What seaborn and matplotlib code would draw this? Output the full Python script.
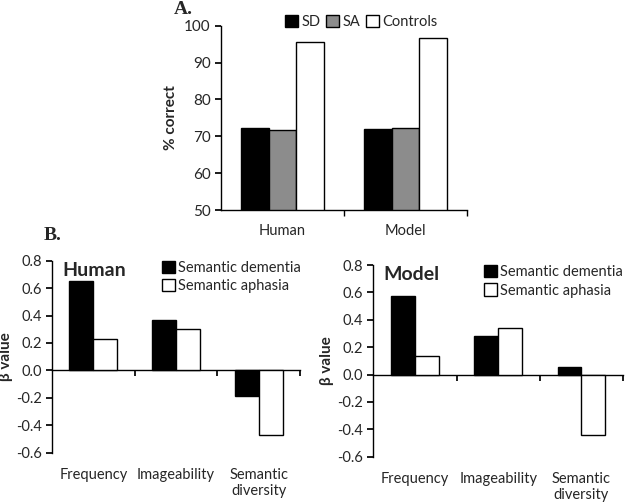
import matplotlib
matplotlib.use("Agg")
import matplotlib.pyplot as plt
import seaborn as sns
import pandas as pd
import numpy as np

sns.set_theme(style="white")
plt.rcParams['font.family'] = ['Lato', 'DejaVu Sans']
plt.rcParams['axes.unicode_minus'] = False

# ---- data ----
a_conditions = ["Human", "Model"]
a_groups = ["SD", "SA", "Controls"]
a_sd = [72.3, 72.0]
a_sa = [71.6, 72.2]
a_controls = [95.6, 96.7]

b_factors = ["Frequency", "Imageability", "Semantic\ndiversity"]
b_groups = ["Semantic dementia", "Semantic aphasia"]
human_sd = [0.65, 0.365, -0.19]
human_sa = [0.23, 0.30, -0.47]
model_sd = [0.575, 0.285, 0.058]
model_sa = [0.136, 0.341, -0.438]

df_a = pd.DataFrame({
    "cond": a_conditions * 3,
    "group": [g for g in a_groups for _ in a_conditions],
    "val": a_sd + a_sa + a_controls,
})

def bdf(sd, sa):
    return pd.DataFrame({
        "factor": b_factors * 2,
        "group": [g for g in b_groups for _ in b_factors],
        "val": sd + sa,
    })

fig = plt.figure(figsize=(6.25, 5.04), dpi=100)

tick_fs = 10.5
edge = dict(edgecolor="black", linewidth=1.0)

# ---- Panel A ----
axA = fig.add_axes([0.3536, 0.5833, 0.747 - 0.3536, 0.949 - 0.5833])
sns.barplot(data=df_a, x="cond", y="val", hue="group", hue_order=a_groups,
            palette=["#000000", "#8c8c8c", "#ffffff"], width=0.67, gap=0,
            saturation=1, ax=axA, **edge)
axA.set_ylim(50, 100)
axA.set_xlim(-0.5, 1.5)
axA.set_yticks(np.arange(50, 101, 10))
axA.set_xlabel("")
axA.set_ylabel("% correct", fontsize=11, fontweight="bold", labelpad=4)
for s in ["top", "right"]:
    axA.spines[s].set_visible(False)
for s in ["left", "bottom"]:
    axA.spines[s].set_color("black")
    axA.spines[s].set_linewidth(1.0)
axA.set_xticks([0.5, 1.5], minor=True)
axA.tick_params(axis="x", which="major", length=0, labelsize=tick_fs, pad=10)
axA.tick_params(axis="x", which="minor", length=4, direction="out", bottom=True, color="black")
axA.tick_params(axis="y", length=4, direction="out", left=True, labelsize=11, color="black")
axA.legend(loc="center", bbox_to_anchor=(0.57, 1.02), ncol=3, frameon=False,
           fontsize=10.5, handlelength=0.9, handleheight=0.9, handletextpad=0.2,
           columnspacing=0.4, borderaxespad=0, borderpad=0)
fig.text(174 / 625, 1 - 10 / 504, "A.", fontsize=14, fontweight="bold",
         family="Liberation Serif", va="center", ha="left")

# ---- Panel B ----
def panel_b(rect, sd, sa, title, width, leg_anchor):
    ax = fig.add_axes(rect)
    sns.barplot(data=bdf(sd, sa), x="factor", y="val", hue="group", hue_order=b_groups,
                palette=["#000000", "#ffffff"], width=width, gap=0, saturation=1,
                ax=ax, **edge)
    ymin, ymax = -0.6, 0.8
    ax.set_ylim(ymin, ymax)
    ax.set_xlim(-0.5, 2.5)
    yt = np.round(np.arange(-0.6, 0.81, 0.2), 1)
    ax.set_yticks(yt)
    ax.set_yticklabels([f"{v:.1f}" for v in yt])
    ax.set_xlabel("")
    ax.set_ylabel("β value", fontsize=11, fontweight="bold", labelpad=2)
    for s in ["top", "right", "bottom"]:
        ax.spines[s].set_visible(False)
    ax.spines["left"].set_color("black")
    ax.spines["left"].set_linewidth(1.0)
    ax.tick_params(axis="x", which="major", length=0, labelsize=tick_fs, pad=11)
    ax.tick_params(axis="y", length=4, direction="out", left=True, labelsize=tick_fs, color="black")
    sec = ax.secondary_xaxis((0 - ymin) / (ymax - ymin))
    sec.set_xticks([0.5, 1.5, 2.5])
    sec.set_xticklabels([])
    sec.tick_params(axis="x", length=4, direction="out", color="black")
    sec.spines["bottom"].set_color("black")
    sec.spines["bottom"].set_linewidth(1.0)
    ax.legend(loc="upper right", bbox_to_anchor=leg_anchor, frameon=False,
              fontsize=10.5, handlelength=0.9, handleheight=0.9, handletextpad=0.2,
              labelspacing=0.3, borderaxespad=0, borderpad=0)
    ax.text(0.04, 0.95, title, transform=ax.transAxes, fontsize=14, fontweight="bold",
            va="center", ha="left")
    return ax

panel_b([0.0832, 0.1018, 0.48 - 0.0832, 0.4827 - 0.1018], human_sd, human_sa, "Human", 0.58,
        (1.005, 1.0))
panel_b([0.5973, 0.0938, 0.9968 - 0.5973, 0.4742 - 0.0938], model_sd, model_sa, "Model", 0.57,
        (0.998, 1.0))
fig.text(44 / 625, 1 - 235 / 504, "B.", fontsize=14, fontweight="bold",
         family="Liberation Serif", va="center", ha="left")

fig.savefig("out.png", dpi=100, facecolor="white")
